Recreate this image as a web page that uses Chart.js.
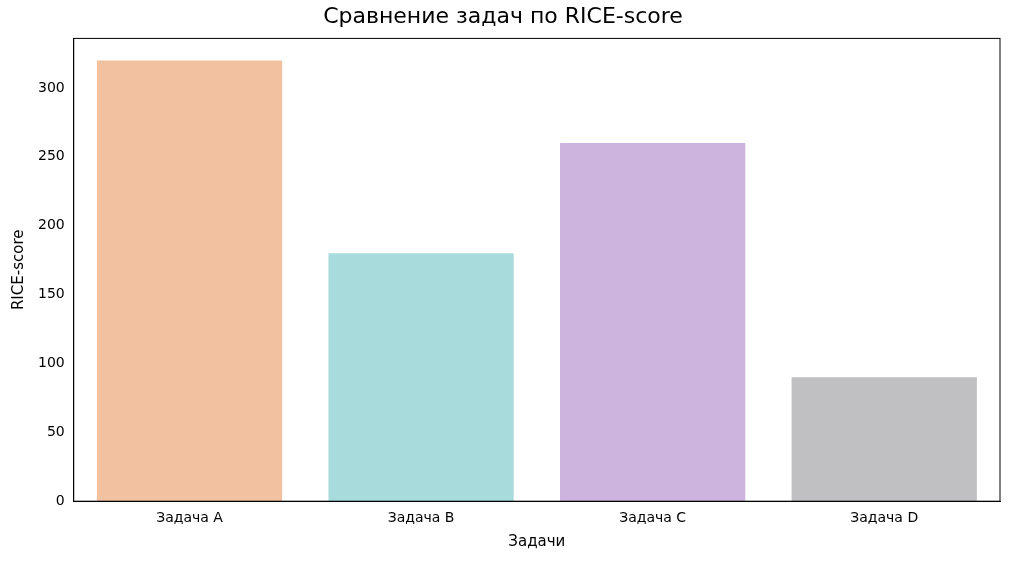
<!DOCTYPE html>
<html><head><meta charset="utf-8">
<script src="https://cdn.jsdelivr.net/npm/chart.js@4"></script>
<style>html,body{margin:0;background:#fff}#wrap{width:1024px;height:561px}</style>
</head><body><div id="wrap"><canvas id="c"></canvas></div>
<script>
const categories = ['Задача A', 'Задача B', 'Задача C', 'Задача D'];
const scores = [320, 180, 260, 90];
const colors = ['#f2c1a0', '#a8dcdc', '#cdb4de', '#c0bfc1'];
const yTicks = [0, 50, 100, 150, 200, 250, 300];

const font = 'DejaVu Sans';
const frame = {
  id: 'frame',
  afterDraw(chart) {
    const { ctx, chartArea: a } = chart;
    ctx.save();
    ctx.strokeStyle = '#000';
    ctx.lineWidth = 1;
    ctx.strokeRect(a.left, a.top, a.right - a.left, a.bottom - a.top);
    ctx.restore();
  }
};
new Chart(document.getElementById('c'), {
  type: 'bar',
  data: { labels: categories, datasets: [{ data: scores, backgroundColor: colors, barPercentage: 0.8, categoryPercentage: 1 }] },
  options: {
    responsive: true, maintainAspectRatio: false, animation: false,
    layout: { padding: { top: 4, right: 24, bottom: 6, left: 6 } },
    plugins: {
      legend: { display: false }, tooltip: { enabled: false },
      title: { display: true, text: 'Сравнение задач по RICE-score', color: '#000', font: { family: font, size: 22, weight: 'normal' }, padding: { top: 0, bottom: 8 } }
    },
    scales: {
      x: {
        grid: { display: false, drawTicks: true, tickLength: 5 },
        border: { color: '#000' },
        ticks: { color: '#000', font: { family: font, size: 14 }, padding: 4 },
        title: { display: true, text: 'Задачи', color: '#000', font: { family: font, size: 15 }, padding: { top: 2 } }
      },
      y: {
        min: 0, max: 336,
        afterBuildTicks: s => { s.ticks = yTicks.map(v => ({ value: v })); },
        grid: { display: false, drawTicks: true, tickLength: 5 },
        border: { color: '#000' },
        ticks: { color: '#000', font: { family: font, size: 14 }, padding: 4 },
        title: { display: true, text: 'RICE-score', color: '#000', font: { family: font, size: 15 }, padding: { bottom: 6 } }
      }
    }
  },
  plugins: [frame]
});
</script></body></html>
